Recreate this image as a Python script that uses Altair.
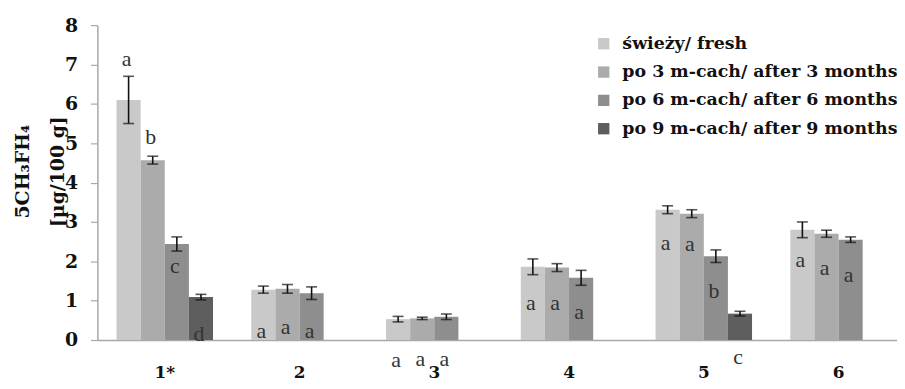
import altair as alt
import pandas as pd

groups = ["1*", "2", "3", "4", "5", "6"]
series = ["świeży/ fresh", "po 3 m-cach/ after 3 months",
          "po 6 m-cach/ after 6 months", "po 9 m-cach/ after 9 months"]
colors = ["#c9c9c9", "#ababab", "#8e8e8e", "#5e5e5e"]
y_ticks = [0, 1, 2, 3, 4, 5, 6, 7, 8]

fresh = [6.10, 1.28, 0.53, 1.86, 3.31, 2.80]
m3 = [4.57, 1.30, 0.55, 1.84, 3.21, 2.70]
m6 = [2.44, 1.19, 0.59, 1.58, 2.13, 2.55]
m9 = [1.09, None, None, None, 0.67, None]

fresh_err = [0.60, 0.09, 0.07, 0.20, 0.10, 0.20]
m3_err = [0.10, 0.11, 0.03, 0.10, 0.10, 0.09]
m6_err = [0.18, 0.16, 0.07, 0.19, 0.16, 0.07]
m9_err = [0.07, None, None, None, 0.06, None]

fresh_lab = ["a", "a", "a", "a", "a", "a"]
m3_lab = ["b", "a", "a", "a", "a", "a"]
m6_lab = ["c", "a", "a", "a", "b", "a"]
m9_lab = ["d", None, None, None, "c", None]

fresh_lab_y = [7.15, 0.23, -0.52, 0.93, 2.47, 2.03]
m3_lab_y = [5.15, 0.33, -0.48, 0.93, 2.45, 1.84]
m6_lab_y = [1.87, 0.23, -0.48, 0.71, 1.25, 1.64]
m9_lab_y = [0.15, None, None, None, -0.44, None]

rows = []
for s, vals, errs, labs, laby in zip(
        series, [fresh, m3, m6, m9], [fresh_err, m3_err, m6_err, m9_err],
        [fresh_lab, m3_lab, m6_lab, m9_lab],
        [fresh_lab_y, m3_lab_y, m6_lab_y, m9_lab_y]):
    for g, v, e, l, ly in zip(groups, vals, errs, labs, laby):
        if v is None:
            continue
        rows.append({"group": g, "series": s, "value": v,
                     "lo": v - e, "hi": v + e, "lab": l, "lab_y": ly})
df = pd.DataFrame(rows)

SERIF = "DejaVu Serif"

x_axis = alt.Axis(title=None, labelAngle=0, ticks=False,
                  domainColor="#a8a8a8", domainWidth=1.5,
                  labelFont=SERIF, labelFontWeight="bold",
                  labelFontSize=17, labelColor="#111",
                  labelBaseline="alphabetic", labelPadding=38)
x_scale = alt.Scale(domain=groups, range=[0, 814],
                    paddingInner=0.284, paddingOuter=0.142)
y_axis = alt.Axis(title=["5CH₃FH₄", "[µg/100 g]"],
                  values=y_ticks, tickCount=20,
                  format="d", grid=False, labelOverlap=False,
                  domainColor="#a8a8a8", domainWidth=1.5,
                  tickColor="#a8a8a8", tickSize=7, tickWidth=1.2,
                  labelFont=SERIF, labelFontWeight="bold",
                  labelFontSize=19, labelColor="#111",
                  labelPadding=13,
                  titleFont=SERIF, titleFontWeight="bold",
                  titleFontSize=19, titleColor="#111",
                  titleAngle=270, titleAlign="center",
                  titleBaseline="middle", titleLineHeight=35,
                  titleX=-75, titleY=147)
y_scale = alt.Scale(domain=[0, 8], nice=False)


def X():
    return alt.X("group:N", sort=groups, scale=x_scale, axis=x_axis)


def XO():
    return alt.XOffset("series:N", sort=series,
                       scale=alt.Scale(domain=series, paddingInner=0,
                                       paddingOuter=0))


def Y(field):
    return alt.Y(field, scale=y_scale, axis=y_axis)


base = alt.Chart(df)

bars = base.mark_bar().encode(
    x=X(), xOffset=XO(), y=Y("value:Q"),
    color=alt.Color("series:N", sort=series,
                    scale=alt.Scale(domain=series, range=colors),
                    legend=alt.Legend(title=None, orient="none",
                                      legendX=501, legendY=10,
                                      symbolType="square", symbolSize=130,
                                      symbolStrokeWidth=0,
                                      labelFont=SERIF, labelFontWeight="bold",
                                      labelFontSize=17.5, labelColor="#111",
                                      labelLimit=400, labelOffset=10,
                                      rowPadding=9.5, padding=0)),
)

err = base.mark_rule(color="#111", strokeWidth=1.6).encode(
    x=X(), xOffset=XO(), y=Y("lo:Q"), y2="hi:Q",
)
cap_hi = base.mark_tick(color="#111", size=11, thickness=1.6).encode(
    x=X(), xOffset=XO(), y=Y("hi:Q"),
)
cap_lo = base.mark_tick(color="#111", size=11, thickness=1.6).encode(
    x=X(), xOffset=XO(), y=Y("lo:Q"),
)
letters = base.mark_text(font="Liberation Serif", fontSize=22, color="#333",
                         baseline="middle", dx=-2).encode(
    x=X(), xOffset=XO(), y=Y("lab_y:Q"), text="lab:N",
)

chart = alt.layer(bars, err, cap_hi, cap_lo, letters).properties(
    width=805, height=317,
    autosize=alt.AutoSizeParams(type="none"),
    padding={"left": 90, "top": 16, "right": 0, "bottom": 40},
).configure_view(stroke=None)

chart.save("out.html", embed_options={"renderer": "svg", "actions": False})
